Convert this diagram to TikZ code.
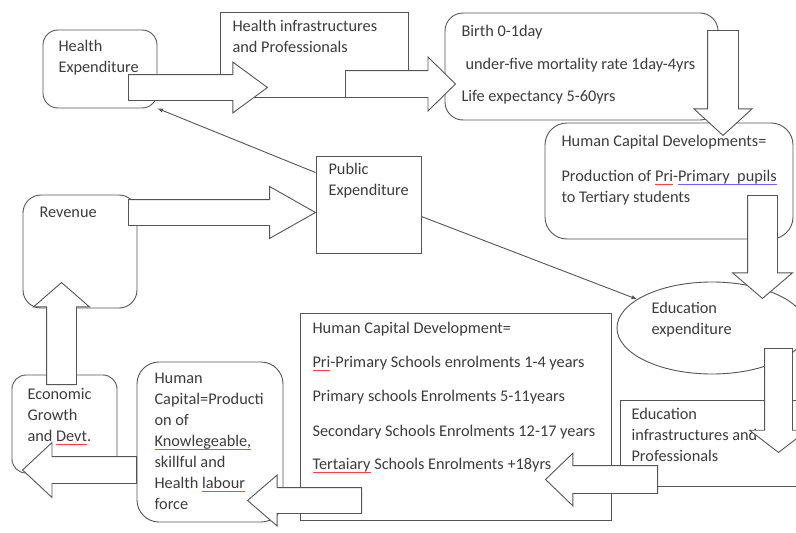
\documentclass[tikz,border=0pt]{standalone}
\usepackage{fontspec}
\setmainfont{Carlito}
\usepackage{tikz}
\usetikzlibrary{shapes,arrows}
\usetikzlibrary{positioning}

\definecolor{linegray}{HTML}{555555}
\definecolor{textgray}{HTML}{3C3C3C}

\newsavebox{\spellbox}
\newcommand\redwave[1]{\sbox{\spellbox}{#1}\rlap{\textcolor{red!75}{\rule[-3.5pt]{\wd\spellbox}{.9pt}}}\usebox{\spellbox}}
\newcommand\bluewave[1]{\sbox{\spellbox}{#1}\rlap{\textcolor{blue!60}{\rule[-3.5pt]{\wd\spellbox}{.9pt}}}\usebox{\spellbox}}

\tikzset{
  box/.style={draw=linegray, line width=.9pt},
  rbox/.style={box, rounded corners=#1},
  txt/.style={anchor=north west, align=left, inner sep=0pt, outer sep=0pt,
    text=textgray, font=\fontsize{16.3}{21}\selectfont},
  fat/.style={single arrow, draw=linegray, fill=white, line width=.9pt,
    inner xsep=0pt, minimum width=0pt, anchor=tail},
  thin/.style={draw=linegray, line width=.9pt, -latex}
}

\begin{document}
\begin{tikzpicture}[x=1pt,y=-1pt]
\clip (0,0) rectangle (796,533);
\fill[white] (0,0) rectangle (796,533);

% boxes
\node[rbox=15pt, minimum width=114pt, minimum height=78pt] (hexp) at (100,69) {};
\node[box, minimum width=188pt, minimum height=85pt] (hinfra) at (314,54.5) {};
\node[rbox=18pt, minimum width=273pt, minimum height=107pt] (birth) at (581.5,66.5) {};
\node[rbox=22pt, minimum width=248pt, minimum height=116pt] (hcdev) at (669,181) {};
\node[box, minimum width=105pt, minimum height=97pt] (pubexp) at (368.5,204.5) {};
\node[rbox=18pt, minimum width=114pt, minimum height=113pt] (rev) at (80,251.5) {};
\node[box, ellipse, minimum width=190pt, minimum height=92pt] (eduexp) at (712,328) {};
\node[box, minimum width=311pt, minimum height=207pt] (hcdschool) at (455.5,416.5) {};
\node[box, minimum width=210pt, minimum height=86pt] (eduinfra) at (725,443) {};
\node[rbox=14pt, minimum width=105pt, minimum height=98pt] (ecogrowth) at (64.5,424) {};
\node[rbox=22pt, minimum width=146pt, minimum height=160pt] (hclabour) at (210,442) {};

% texts
\node[txt, below right=11pt and 16pt of hexp.north west] {Health\\Expenditure};
\node[txt, below right=9pt and 13pt of hinfra.north west] {Health infrastructures\\and Professionals};
\node[txt, below right=13pt and 17pt of birth.north west] {Birth 0-1day\\[12pt]\hspace*{4pt}under-five mortality rate 1day-4yrs\\[11pt]Life expectancy 5-60yrs};
\node[txt, below right=13pt and 17pt of hcdev.north west] {Human Capital Developments=\\[14pt]Production of \redwave{Pri}-\bluewave{Primary\ \ pupils}\\to Tertiary students};
\node[txt, below right=8pt and 13pt of pubexp.north west] {Public\\Expenditure};
\node[txt, below right=12pt and 17pt of rev.north west] {Revenue};
\node[txt] at ([shift={(35pt,26pt)}]eduexp.west) {Education\\expenditure};
\node[txt, below right=10pt and 13pt of hcdschool.north west] {Human Capital Development=\\[13pt]\redwave{Pri}-Primary Schools enrolments 1-4 years\\[13pt]Primary schools Enrolments 5-11years\\[14pt]Secondary Schools Enrolments 12-17 years\\[12pt]\redwave{Tertaiary} Schools Enrolments +18yrs};
\node[txt, below right=9pt and 12pt of eduinfra.north west] {Education\\infrastructures and\\Professionals};
\node[txt, below right=14pt and 16pt of ecogrowth.north west] {Economic\\Growth\\and \redwave{Devt}.};
\node[txt, below right=11pt and 18pt of hclabour.north west] {Human\\Capital=Producti\\on of\\\redwave{Knowlegeable,}\\skillful and\\Health \redwave{labour}\\force};

% block arrows
\node[fat, inner ysep=12.5pt, single arrow head extend=12.5pt, single arrow tip angle=72.6, minimum height=139pt] (hexp2hinfra) at (128,87.5) {};
\node[fat, inner ysep=13pt, single arrow head extend=13.5pt, single arrow tip angle=89, minimum height=110pt] (hinfra2birth) at (345,84) {};
\node[fat, rotate=-90, inner ysep=15pt, single arrow head extend=13.5pt, single arrow tip angle=95, minimum height=105pt] (birth2hcdev) at (723,30) {};
\node[fat, rotate=-90, inner ysep=14.5pt, single arrow head extend=15pt, single arrow tip angle=99, minimum height=103pt] (hcdev2eduexp) at (762.5,195) {};
\node[fat, rotate=-90, inner ysep=13.5pt, single arrow head extend=15pt, single arrow tip angle=105, minimum height=104pt] (eduexp2eduinfra) at (778.5,348) {};
\node[fat, rotate=180, inner ysep=13.5pt, single arrow head extend=12.5pt, single arrow tip angle=88, minimum height=112pt] (eduinfra2school) at (658,479.5) {};
\node[fat, rotate=180, inner ysep=12.5pt, single arrow head extend=12.5pt, single arrow tip angle=81.5, minimum height=114pt] (school2labour) at (362,500.5) {};
\node[fat, rotate=180, inner ysep=13pt, single arrow head extend=14pt, single arrow tip angle=86, minimum height=114pt] (labour2growth) at (137,470) {};
\node[fat, rotate=90, inner ysep=14.5pt, single arrow head extend=13pt, single arrow tip angle=98, minimum height=102pt] (growth2rev) at (61.5,385) {};
\node[fat, inner ysep=12.5pt, single arrow head extend=13pt, single arrow tip angle=59, minimum height=187pt] (rev2pubexp) at (128,212.5) {};

% thin arrows
\draw[thin] ([yshift=-17pt]pubexp.north west) -- (hexp.south east);
\draw[thin] ([yshift=-12pt]pubexp.east) -- (eduexp);

\end{tikzpicture}
\end{document}
